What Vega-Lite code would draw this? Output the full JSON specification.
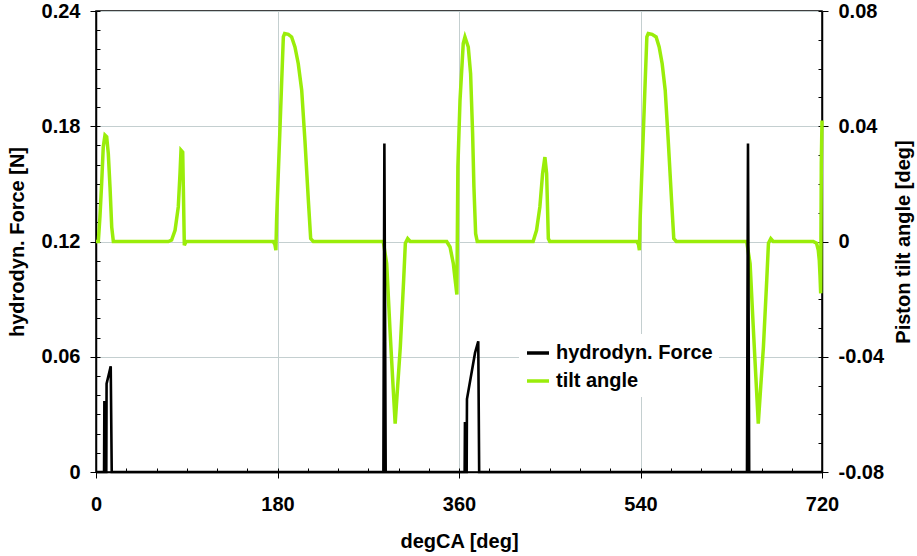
{
  "$schema": "https://vega.github.io/schema/vega-lite/v6.json",
  "width": 726,
  "height": 461,
  "autosize": {"type": "none"},
  "padding": {"left": 96, "top": 11, "right": 95, "bottom": 84},
  "background": "white",
  "datasets": {
    "force": [
      {"deg": 0, "force": 0}, {"deg": 8, "force": 0}, {"deg": 8.3, "force": 0.037}, {"deg": 9, "force": 0},
      {"deg": 10.2, "force": 0}, {"deg": 10.5, "force": 0.046}, {"deg": 14.6, "force": 0.055}, {"deg": 15.6, "force": 0},
      {"deg": 285, "force": 0}, {"deg": 286, "force": 0.171}, {"deg": 287.3, "force": 0},
      {"deg": 365.6, "force": 0}, {"deg": 365.9, "force": 0.026}, {"deg": 366.6, "force": 0}, {"deg": 367.6, "force": 0},
      {"deg": 367.9, "force": 0.038}, {"deg": 375.9, "force": 0.062}, {"deg": 379.1, "force": 0.068}, {"deg": 380, "force": 0},
      {"deg": 645.6, "force": 0}, {"deg": 646.6, "force": 0.171}, {"deg": 647.8, "force": 0}, {"deg": 720, "force": 0}
    ],
    "tilt": [
      {"deg": 0, "tilt": 0}, {"deg": 2.3, "tilt": 0}, {"deg": 3.9, "tilt": 0.0085}, {"deg": 5.6, "tilt": 0.0201}, {"deg": 7.2, "tilt": 0.0328},
      {"deg": 8.9, "tilt": 0.0369}, {"deg": 10.6, "tilt": 0.0363}, {"deg": 12.2, "tilt": 0.0305}, {"deg": 13.9, "tilt": 0.0189}, {"deg": 15.6, "tilt": 0.005}, {"deg": 17.2, "tilt": 0},
      {"deg": 71.7, "tilt": 0}, {"deg": 75, "tilt": 0.0005}, {"deg": 78.4, "tilt": 0.0039}, {"deg": 81.6, "tilt": 0.012}, {"deg": 83.3, "tilt": 0.0236},
      {"deg": 84.3, "tilt": 0.0317}, {"deg": 86, "tilt": 0.031}, {"deg": 86.6, "tilt": 0.019}, {"deg": 87.6, "tilt": -0.0013}, {"deg": 89.3, "tilt": 0},
      {"deg": 175.7, "tilt": 0}, {"deg": 177.4, "tilt": -0.001}, {"deg": 178.4, "tilt": -0.003}, {"deg": 179.1, "tilt": 0.0074}, {"deg": 180.8, "tilt": 0.0237},
      {"deg": 182.5, "tilt": 0.0397}, {"deg": 184.2, "tilt": 0.056}, {"deg": 185.8, "tilt": 0.071}, {"deg": 187.1, "tilt": 0.0722}, {"deg": 190.7, "tilt": 0.0719},
      {"deg": 194, "tilt": 0.071}, {"deg": 197.3, "tilt": 0.0675}, {"deg": 200.6, "tilt": 0.0617}, {"deg": 204, "tilt": 0.0525}, {"deg": 207.2, "tilt": 0.0351},
      {"deg": 210.6, "tilt": 0.0143}, {"deg": 212.9, "tilt": 0.001}, {"deg": 215.5, "tilt": 0},
      {"deg": 284.9, "tilt": 0}, {"deg": 288.3, "tilt": -0.0077}, {"deg": 291.6, "tilt": -0.0309}, {"deg": 294.1, "tilt": -0.047}, {"deg": 296.7, "tilt": -0.0632},
      {"deg": 299.2, "tilt": -0.05}, {"deg": 301.8, "tilt": -0.0366}, {"deg": 305.1, "tilt": -0.0134}, {"deg": 306.8, "tilt": -0.0006}, {"deg": 309.1, "tilt": 0.001}, {"deg": 311.6, "tilt": 0},
      {"deg": 347.8, "tilt": 0}, {"deg": 351.1, "tilt": -0.0019}, {"deg": 354.4, "tilt": -0.0077}, {"deg": 356.1, "tilt": -0.013}, {"deg": 357.9, "tilt": -0.0184},
      {"deg": 358.9, "tilt": 0.0259}, {"deg": 361, "tilt": 0.049}, {"deg": 364.2, "tilt": 0.0687}, {"deg": 365.9, "tilt": 0.071}, {"deg": 369.2, "tilt": 0.0675},
      {"deg": 371.5, "tilt": 0.0583}, {"deg": 373.5, "tilt": 0.0375}, {"deg": 374.8, "tilt": 0.0189}, {"deg": 376.5, "tilt": 0.0027}, {"deg": 378.1, "tilt": 0},
      {"deg": 433.5, "tilt": 0}, {"deg": 436.9, "tilt": 0.0039}, {"deg": 440.2, "tilt": 0.012}, {"deg": 442.9, "tilt": 0.0236}, {"deg": 445.2, "tilt": 0.0293},
      {"deg": 446.9, "tilt": 0.0236}, {"deg": 448.6, "tilt": 0.001}, {"deg": 450, "tilt": 0},
      {"deg": 536.3, "tilt": 0}, {"deg": 538, "tilt": -0.001}, {"deg": 538.9, "tilt": -0.003}, {"deg": 539.6, "tilt": 0.0074}, {"deg": 541.3, "tilt": 0.0237},
      {"deg": 543, "tilt": 0.0397}, {"deg": 544.7, "tilt": 0.056}, {"deg": 546.3, "tilt": 0.071}, {"deg": 547.7, "tilt": 0.0722}, {"deg": 551.5, "tilt": 0.0719},
      {"deg": 555.5, "tilt": 0.071}, {"deg": 558.5, "tilt": 0.0675}, {"deg": 561.5, "tilt": 0.0617}, {"deg": 564.5, "tilt": 0.0525}, {"deg": 567.5, "tilt": 0.0351},
      {"deg": 570.8, "tilt": 0.0143}, {"deg": 573, "tilt": 0.001}, {"deg": 575.5, "tilt": 0},
      {"deg": 645.3, "tilt": 0}, {"deg": 648.7, "tilt": -0.0077}, {"deg": 652, "tilt": -0.0309}, {"deg": 654.4, "tilt": -0.047}, {"deg": 656.8, "tilt": -0.0632},
      {"deg": 659.3, "tilt": -0.05}, {"deg": 661.9, "tilt": -0.0366}, {"deg": 665.2, "tilt": -0.0134}, {"deg": 666.9, "tilt": -0.0006}, {"deg": 669.2, "tilt": 0.001}, {"deg": 671.6, "tilt": 0},
      {"deg": 711.3, "tilt": 0}, {"deg": 714.6, "tilt": -0.0006}, {"deg": 716.3, "tilt": -0.003}, {"deg": 717.3, "tilt": -0.0065}, {"deg": 718, "tilt": -0.0117},
      {"deg": 718.7, "tilt": -0.018}, {"deg": 719.3, "tilt": 0.027}, {"deg": 720, "tilt": 0.042}
    ]
  },
  "config": {
    "view": {"stroke": "black", "strokeWidth": 1.5},
    "font": "Liberation Sans",
    "axis": {
      "labelFont": "Liberation Sans", "labelFontSize": 20, "labelFontWeight": "bold", "labelColor": "black",
      "titleFont": "Liberation Sans", "titleFontSize": 20, "titleFontWeight": "bold", "titleColor": "black",
      "domainColor": "black", "domainWidth": 1.5, "tickColor": "black", "tickWidth": 1,
      "gridColor": "#c4cfd0", "gridWidth": 1, "labelFlush": false, "labelOverlap": false
    },
    "legend": {
      "padding": 6, "fillColor": "white", "symbolType": "stroke", "symbolSize": 484, "symbolStrokeWidth": 3.5,
      "labelFont": "Liberation Sans", "labelFontSize": 20, "labelFontWeight": "bold", "labelColor": "black",
      "labelOffset": 5, "rowPadding": 5, "labelLimit": 300
    }
  },
  "resolve": {"scale": {"y": "independent"}, "axis": {"x": "independent", "y": "independent"}},
  "layer": [
    {
      "data": {"name": "tilt"},
      "mark": {"type": "line", "strokeWidth": 3.5},
      "encoding": {
        "x": {"field": "deg", "type": "quantitative", "scale": {"domain": [0, 720], "nice": false, "zero": false}, "axis": null},
        "y": {"field": "tilt", "type": "quantitative", "scale": {"domain": [-0.08, 0.08], "nice": false, "zero": false},
          "axis": {"orient": "right", "values": [-0.08, -0.04, 0, 0.04, 0.08], "tickSize": 6, "labelPadding": 10, "grid": false,
            "title": "Piston tilt angle [deg]", "titleAngle": 270, "titleBaseline": "top", "titlePadding": 10,
            "labelExpr": "datum.value == 0 ? '0' : (datum.value < 0 ? '-' : '') + format(abs(datum.value), '.2f')"}},
        "color": {"datum": "tilt angle", "type": "nominal",
          "scale": {"domain": ["hydrodyn. Force", "tilt angle"], "range": ["black", "#9aed0a"]},
          "legend": {"title": null, "orient": "none", "legendX": 423, "legendY": 323}}
      }
    },
    {
      "data": {"name": "force"},
      "mark": {"type": "line", "strokeWidth": 2.6},
      "encoding": {
        "x": {"field": "deg", "type": "quantitative", "scale": {"domain": [0, 720], "nice": false, "zero": false},
          "axis": {"orient": "bottom", "values": [0, 180, 360, 540, 720], "tickSize": 6, "labelPadding": 16, "grid": true,
            "title": "degCA [deg]", "titlePadding": 17}},
        "y": {"field": "force", "type": "quantitative", "scale": {"domain": [0, 0.24], "nice": false, "zero": false},
          "axis": {"orient": "left", "values": [0, 0.06, 0.12, 0.18, 0.24], "tickSize": 6, "labelPadding": 10, "grid": true,
            "title": "hydrodyn. Force [N]", "titlePadding": 14,
            "labelExpr": "datum.value == 0 ? '0' : format(datum.value, '.2f')"}},
        "color": {"datum": "hydrodyn. Force", "type": "nominal",
          "scale": {"domain": ["hydrodyn. Force", "tilt angle"], "range": ["black", "#9aed0a"]},
          "legend": {"title": null, "orient": "none", "legendX": 423, "legendY": 323}}
      }
    },
    {
      "data": {"name": "force"},
      "mark": {"type": "line", "opacity": 0},
      "encoding": {
        "x": {"field": "deg", "type": "quantitative", "scale": {"domain": [0, 720], "nice": false, "zero": false},
          "axis": {"orient": "bottom", "values": [0, 30, 60, 90, 120, 150, 180, 210, 240, 270, 300, 330, 360, 390, 420, 450, 480, 510, 540, 570, 600, 630, 660, 690, 720],
            "tickSize": -4, "labels": false, "domain": false, "grid": false, "title": null}},
        "y": {"field": "force", "type": "quantitative", "scale": {"domain": [0, 0.24], "nice": false, "zero": false},
          "axis": {"orient": "left", "values": [0, 0.01, 0.02, 0.03, 0.04, 0.05, 0.06, 0.07, 0.08, 0.09, 0.1, 0.11, 0.12, 0.13, 0.14, 0.15, 0.16, 0.17, 0.18, 0.19, 0.2, 0.21, 0.22, 0.23, 0.24],
            "tickSize": -4, "labels": false, "domain": false, "grid": false, "title": null}}
      }
    },
    {
      "data": {"name": "tilt"},
      "mark": {"type": "line", "opacity": 0},
      "encoding": {
        "x": {"field": "deg", "type": "quantitative", "scale": {"domain": [0, 720], "nice": false, "zero": false}, "axis": null},
        "y": {"field": "tilt", "type": "quantitative", "scale": {"domain": [-0.08, 0.08], "nice": false, "zero": false},
          "axis": {"orient": "right", "values": [-0.08, -0.07, -0.06, -0.05, -0.04, -0.03, -0.02, -0.01, 0, 0.01, 0.02, 0.03, 0.04, 0.05, 0.06, 0.07, 0.08],
            "tickSize": -4, "labels": false, "domain": false, "grid": false, "title": null}}
      }
    }
  ]
}
